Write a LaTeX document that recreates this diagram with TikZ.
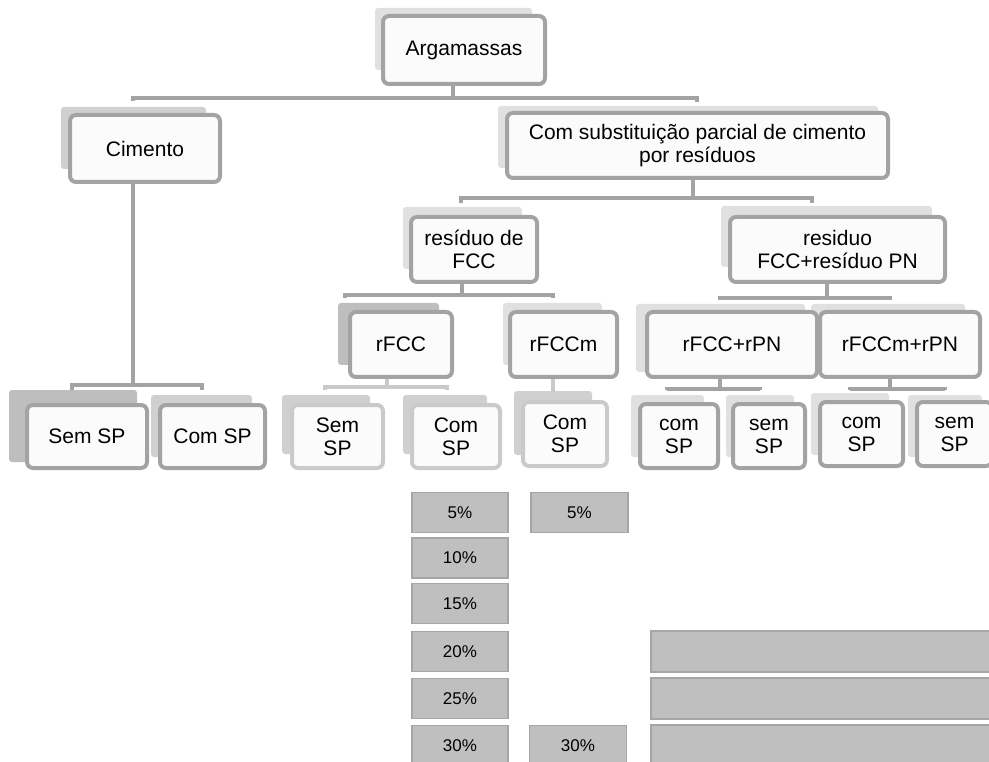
\documentclass[tikz,border=0pt]{standalone}
\usepackage{fontspec}
\setmainfont{Liberation Sans}
\usetikzlibrary{calc}
\pgfdeclarelayer{bg}
\pgfsetlayers{bg,main}
\definecolor{bord}{RGB}{163,163,163}
\definecolor{lbord}{RGB}{202,202,202}
\definecolor{shA}{RGB}{224,224,224}
\definecolor{shB}{RGB}{208,208,208}
\definecolor{shC}{RGB}{190,190,190}
\definecolor{pfill}{RGB}{191,191,191}
\definecolor{pbord}{RGB}{166,166,166}
\definecolor{boxfill}{RGB}{251,251,251}
\tikzset{
  box/.style={draw=bord, line width=4pt, rounded corners=6pt, fill=boxfill, align=center, inner sep=0pt, font=\fontsize{21}{23}\selectfont},
  lbox/.style={box, draw=lbord},
  conn/.style={draw=bord, line width=4pt},
  lconn/.style={draw=lbord, line width=4pt},
  pct/.style={draw=pbord, line width=1.5pt, fill=pfill, inner sep=0pt, minimum height=40pt, font=\fontsize{17}{19}\selectfont},
}
% shadow: color, node, left/top offset, right/bottom offset
\newcommand\shd[6]{\begin{pgfonlayer}{bg}\fill[#1,rounded corners=3pt] ($(#2.north west)+(#3,#4)$) rectangle ($(#2.south east)+(#5,#6)$);\end{pgfonlayer}}
\begin{document}
\begin{tikzpicture}[x=1pt,y=-1pt]
\useasboundingbox (0,0) rectangle (989,762);
% boxes
\node[box, minimum width=162, minimum height=68] (arg) at (464,50) {Argamassas};
\node[box, minimum width=150, minimum height=67] (cim) at (145,148.5) {Cimento};
\node[box, minimum width=381, minimum height=65] (com) at (697.5,145.5) {Com substituição parcial de cimento\\por resíduos};
\node[box, minimum width=126, minimum height=65] (res) at (474,249.5) {resíduo de\\FCC};
\node[box, minimum width=215, minimum height=65] (rpn) at (837.5,249.5) {residuo\\FCC+resíduo PN};
\node[box, minimum width=102, minimum height=65] (rfcc) at (401,344.5) {rFCC};
\node[box, minimum width=107, minimum height=65] (rfccm) at (563.5,344.5) {rFCCm};
\node[box, minimum width=170, minimum height=65] (rfccpn) at (732,344.5) {rFCC+rPN};
\node[box, minimum width=160, minimum height=65] (rfccmpn) at (900,344.5) {rFCCm+rPN};
\node[box, minimum width=120, minimum height=63] (s1) at (87,436.5) {Sem SP};
\node[box, minimum width=105, minimum height=63] (c1) at (212.5,436.5) {Com SP};
\node[lbox, minimum width=91, minimum height=63] (s2) at (337.5,436.5) {Sem\\SP};
\node[lbox, minimum width=88, minimum height=63] (c2) at (456,436.5) {Com\\SP};
\node[lbox, minimum width=84, minimum height=64] (c3) at (565,434) {Com\\SP};
\node[box, minimum width=78, minimum height=64] (c4) at (679,436) {com\\SP};
\node[box, minimum width=72, minimum height=64] (s4) at (769,436) {sem\\SP};
\node[box, minimum width=83, minimum height=64] (c5) at (861.5,434) {com\\SP};
\node[box, minimum width=75, minimum height=64] (s5) at (954.5,434) {sem\\SP};
% shadows
\shd{shA}{arg}{-6}{-6}{-15}{-16}
\shd{shB}{cim}{-7}{-6}{-16}{-15}
\shd{shA}{com}{-7}{-5}{-12}{-12}
\shd{shA}{res}{-6}{-8}{-17}{-15}
\shd{shA}{rpn}{-7}{-9}{-15}{-17}
\shd{shC}{rfcc}{-10}{-7}{-15}{-14}
\shd{shA}{rfccm}{-5}{-7}{-17}{-14}
\shd{shA}{rfccpn}{-9}{-6}{-14}{-7}
\shd{shA}{rfccmpn}{-7}{-6}{-17}{-7}
\shd{shC}{s1}{-16}{-13}{-12}{-8}
\shd{shB}{c1}{-7}{-8}{-15}{-13}
\shd{shB}{s2}{-8}{-8}{-15}{-16}
\shd{shB}{c2}{-7}{-8}{-15}{-16}
\shd{shB}{c3}{-7}{-9}{-17}{-13}
\shd{shA}{c4}{-7}{-7}{-16}{-13}
\shd{shA}{s4}{-5}{-7}{-13}{-13}
\shd{shA}{c5}{-7}{-7}{-16}{-13}
\shd{shA}{s5}{-7}{-5}{-12}{-11}
% connectors
\begin{pgfonlayer}{bg}
\draw[conn] ($(arg.south)+(-11,0)$) -- ($(arg.south)+(-11,12)$);
\draw[conn] ($(cim.north)+(-12,-12)$) |- ($(arg.south)+(-11,12)$) -| ($(com.north)+(-0.5,-9)$);
\draw[conn] ($(cim.south)+(-12,0)$) -- ($(cim.south)+(-12,201)$);
\draw[conn] ($(s1.north)+(-15,-13)$) |- ($(cim.south)+(-12,201)$) -| ($(c1.north)+(-10.5,-13)$);
\draw[conn] ($(com.south)+(-4.5,0)$) -- ($(com.south)+(-4.5,18)$);
\draw[conn] ($(res.north)+(-13,-12)$) |- ($(com.south)+(-4.5,18)$) -| ($(rpn.north)+(-25.5,-12)$);
\draw[conn] ($(res.south)+(-12,0)$) -- ($(res.south)+(-12,11)$);
\draw[conn] ($(rfcc.north)+(-56,-12)$) |- ($(res.south)+(-12,11)$) -| ($(rfccm.north)+(-10.5,-12)$);
\draw[conn] ($(rpn.south)+(-10.5,0)$) -- ($(rpn.south)+(-10.5,14)$);
\draw[conn] ($(rfccpn.north)+(-12,-10)$) |- ($(rpn.south)+(-10.5,14)$) -| ($(rfccmpn.north)+(-10,-10)$);
\draw[lconn] ($(rfcc.south)+(-14,0)$) -- ($(rfcc.south)+(-14,8)$);
\draw[lconn] ($(s2.north)+(-12.5,-13)$) |- ($(rfcc.south)+(-14,8)$) -| ($(c2.north)+(-9,-13)$);
\draw[lconn] ($(rfccm.south)+(-10.5,0)$) -- ($(rfccm.south)+(-10.5,13)$);
\draw[conn] ($(rfccpn.south)+(-12,0)$) -- ($(rfccpn.south)+(-12,10)$);
\draw[conn] ($(c4.north)+(-12,-12)$) |- ($(rfccpn.south)+(-12,10)$) -| ($(s4.north)+(-9,-12)$);
\draw[conn] ($(rfccmpn.south)+(-10,0)$) -- ($(rfccmpn.south)+(-10,10)$);
\draw[conn] ($(c5.north)+(-11.5,-10)$) |- ($(rfccmpn.south)+(-10,10)$) -| ($(s5.north)+(-9.5,-10)$);
\end{pgfonlayer}
% percentage boxes
\node[pct, minimum width=96] (p5) at (460,512.5) {5\%};
\node[pct, minimum width=96] (p10) at (460,558) {10\%};
\node[pct, minimum width=96] (p15) at (460,603.5) {15\%};
\node[pct, minimum width=96] (p20) at (460,651.5) {20\%};
\node[pct, minimum width=96] (p25) at (460,698.5) {25\%};
\node[pct, minimum width=96] (p30) at (460,745.5) {30\%};
\node[pct, minimum width=97] (q5) at (579.5,512.5) {5\%};
\node[pct, minimum width=97] (q30) at (578,745.5) {30\%};
\node[pct, minimum width=350, minimum height=41] (b20) at (826,651.5) {};
\node[pct, minimum width=350, minimum height=41] (b25) at (826,698.5) {};
\node[pct, minimum width=350, minimum height=41] (b30) at (826,745.5) {};
\end{tikzpicture}
\end{document}
